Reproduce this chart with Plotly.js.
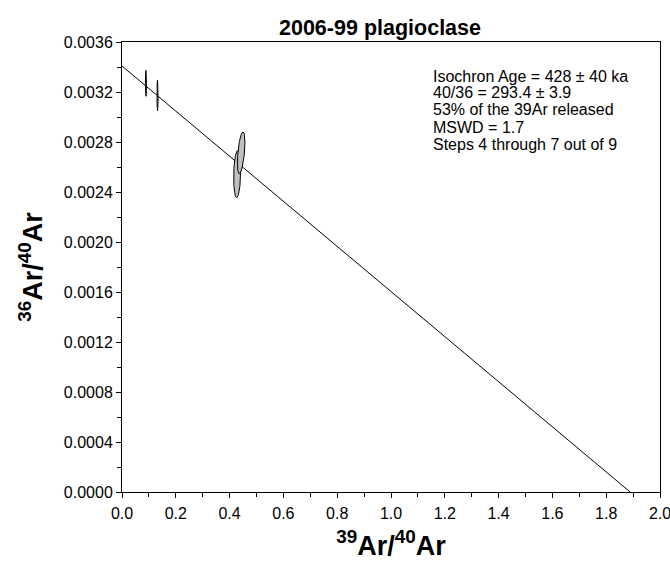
<!DOCTYPE html>
<html>
<head>
<meta charset="utf-8">
<script src="https://cdn.plot.ly/plotly-3.0.1.min.js"></script>
<style>html,body{margin:0;padding:0;background:#fff;}#chart{width:670px;height:583px;}</style>
</head>
<body>
<div id="chart"></div>
<script>
// Step data (centres and 1-sigma half-widths of the error ellipses)
var stepX   = [0.089, 0.132, 0.428, 0.443];
var stepY   = [0.00327, 0.003171, 0.002542, 0.002714];
var stepSX  = [0.002, 0.002, 0.013, 0.014];
var stepSY  = [0.000104, 0.000123, 0.000188, 0.000167];
var stepRho = [0.0, 0.0, 0.15, 0.5];

// Isochron line endpoints
var lineX = [0, 1.889];
var lineY = [0.003408, 0];

var xTicks = [0.0, 0.2, 0.4, 0.6, 0.8, 1.0, 1.2, 1.4, 1.6, 1.8, 2.0];
var yTicks = [0.0000, 0.0004, 0.0008, 0.0012, 0.0016, 0.0020, 0.0024, 0.0028, 0.0032, 0.0036];

var infoLines = [
  "Isochron Age = 428 \u00b1 40 ka",
  "40/36 = 293.4 \u00b1 3.9",
  "53% of the 39Ar released",
  "MSWD = 1.7",
  "Steps 4 through 7 out of 9"
];

function ellipse(cx, cy, sx, sy, rho) {
  var xs = [], ys = [], n = 80, s = Math.sqrt(1 - rho * rho);
  for (var i = 0; i <= n; i++) {
    var t = 2 * Math.PI * i / n;
    xs.push(cx + sx * Math.cos(t));
    ys.push(cy + sy * (rho * Math.cos(t) + s * Math.sin(t)));
  }
  return {x: xs, y: ys};
}

var traces = [];
traces.push({
  x: lineX, y: lineY, mode: 'lines', type: 'scatter',
  line: {color: '#000', width: 1}, hoverinfo: 'skip', showlegend: false
});
for (var i = 0; i < stepX.length; i++) {
  var e = ellipse(stepX[i], stepY[i], stepSX[i], stepSY[i], stepRho[i]);
  traces.push({
    x: e.x, y: e.y, mode: 'lines', type: 'scatter', fill: 'toself',
    fillcolor: '#c0c0c0', line: {color: '#000', width: 1},
    hoverinfo: 'skip', showlegend: false
  });
}

var fam = 'Liberation Sans, Arial, sans-serif';

// text block placement (pixel rows of line centres)
var plotTop = 42, plotH = 450, plotL = 122, plotW = 538;
var infoRows = [76, 93, 110, 127, 144];
var annotations = infoLines.map(function (t, k) {
  return {
    xref: 'paper', yref: 'paper',
    x: (431 - plotL) / plotW, y: 1 - (infoRows[k] - plotTop) / plotH,
    xanchor: 'left', yanchor: 'middle', align: 'left', showarrow: false,
    text: t, font: {family: fam, size: 16, color: '#000'}
  };
});

var layout = {
  width: 670, height: 583,
  margin: {l: 122, r: 10, t: 42, b: 91, pad: 0},
  paper_bgcolor: '#fff', plot_bgcolor: '#fff',
  font: {family: fam, size: 16, color: '#000'},
  showlegend: false,
  title: {
    text: '<b>2006-99 plagioclase</b>',
    font: {family: fam, size: 21.5, color: '#000'},
    xref: 'container', x: 380 / 670, xanchor: 'center',
    yref: 'container', y: 1 - 27 / 583, yanchor: 'middle'
  },
  xaxis: {
    range: [0, 2.0], tickvals: xTicks, ticktext: xTicks.map(function (v) { return v.toFixed(1); }),
    showgrid: false, zeroline: false,
    showline: true, mirror: true, linecolor: '#000', linewidth: 1,
    ticks: 'outside', ticklen: 5, tickwidth: 1, tickcolor: '#000',
    ticklabeloverflow: 'allow', ticklabelstandoff: 2,
    minor: {dtick: 0.1, ticks: 'outside', ticklen: 4, tickwidth: 1, tickcolor: '#000', showgrid: false},
    tickfont: {family: fam, size: 16, color: '#000'},
    title: {text: '<b><sup>39</sup>Ar/<sup>40</sup>Ar</b>', font: {family: fam, size: 27, color: '#000'}, standoff: 14},
    fixedrange: true
  },
  yaxis: {
    range: [0, 0.0036], tickvals: yTicks, ticktext: yTicks.map(function (v) { return v.toFixed(4); }),
    showgrid: false, zeroline: false,
    showline: true, mirror: true, linecolor: '#000', linewidth: 1,
    ticks: 'outside', ticklen: 5, tickwidth: 1, tickcolor: '#000',
    ticklabeloverflow: 'allow',
    minor: {dtick: 0.0002, ticks: 'outside', ticklen: 4, tickwidth: 1, tickcolor: '#000', showgrid: false},
    tickfont: {family: fam, size: 16, color: '#000'},
    title: {text: '<b><sup>36</sup>Ar/<sup>40</sup>Ar</b>', font: {family: fam, size: 27, color: '#000'}, standoff: 13},
    fixedrange: true
  },
  annotations: annotations
};

Plotly.newPlot('chart', traces, layout, {displayModeBar: false, staticPlot: true});
</script>
</body>
</html>
